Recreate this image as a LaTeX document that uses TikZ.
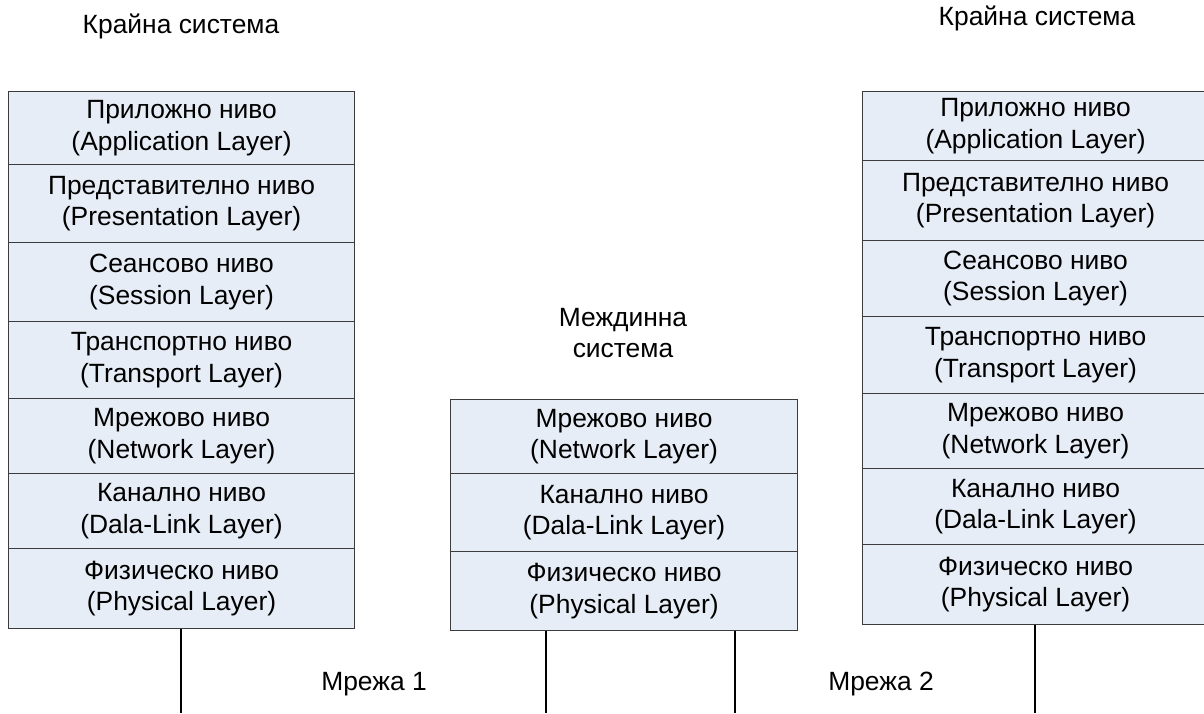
\documentclass[tikz,border=0pt]{standalone}
\usepackage{fontspec}
\setmainfont{Liberation Sans}
\definecolor{layerfill}{HTML}{E7EDF6}
\definecolor{layerline}{HTML}{3C3C3C}
\begin{document}
\begin{tikzpicture}[x=1pt,y=-1pt,
  txt/.style={font=\fontsize{26.4}{31.5}\selectfont, align=center, inner sep=0pt},
  layer/.style={txt, draw=layerline, line width=1.1pt, fill=layerfill,
    anchor=north west, minimum width=#1},
  wire/.style={draw=black, line width=2pt}]
\useasboundingbox (0,0) rectangle (1204,713);

% left end system
\node[txt] (tL) at (181,26) {Крайна система};
\node[layer=346, minimum height=73] (L1) at (8,91)  {Приложно ниво\\(Application Layer)};
\node[layer=346, minimum height=78] (L2) at (8,164) {Представително ниво\\(Presentation Layer)};
\node[layer=346, minimum height=79] (L3) at (8,242) {Сеансово ниво\\(Session Layer)};
\node[layer=346, minimum height=77] (L4) at (8,321) {Транспортно ниво\\(Transport Layer)};
\node[layer=346, minimum height=75] (L5) at (8,398) {Мрежово ниво\\(Network Layer)};
\node[layer=346, minimum height=75] (L6) at (8,473) {Канално ниво\\(Dala-Link Layer)};
\node[layer=346, minimum height=80] (L7) at (8,548) {Физическо ниво\\(Physical Layer)};

% intermediate system
\node[txt] (tM) at (623,333) {Междинна\\система};
\node[layer=347, minimum height=74] (M1) at (450,399) {Мрежово ниво\\(Network Layer)};
\node[layer=347, minimum height=78] (M2) at (450,473) {Канално ниво\\(Dala-Link Layer)};
\node[layer=347, minimum height=79] (M3) at (450,551) {Физическо ниво\\(Physical Layer)};

% right end system
\node[txt] (tR) at (1037,18) {Крайна система};
\node[layer=346, minimum height=69] (R1) at (862,91)  {Приложно ниво\\(Application Layer)};
\node[layer=346, minimum height=80] (R2) at (862,160) {Представително ниво\\(Presentation Layer)};
\node[layer=346, minimum height=76] (R3) at (862,240) {Сеансово ниво\\(Session Layer)};
\node[layer=346, minimum height=77] (R4) at (862,316) {Транспортно ниво\\(Transport Layer)};
\node[layer=346, minimum height=75] (R5) at (862,393) {Мрежово ниво\\(Network Layer)};
\node[layer=346, minimum height=76] (R6) at (862,468) {Канално ниво\\(Dala-Link Layer)};
\node[layer=346, minimum height=80] (R7) at (862,544) {Физическо ниво\\(Physical Layer)};

% network labels
\node[txt] (n1) at (374,684) {Мрежа 1};
\node[txt] (n2) at (881,684) {Мрежа 2};

% links down to the networks
\coordinate (eL)  at (181,713);
\coordinate (eM1) at (546,713);
\coordinate (eM2) at (735,713);
\coordinate (eR)  at (1035,713);
\draw[wire] (L7.south -| eL) -- (eL);
\draw[wire] (M3.south -| eM1) -- (eM1);
\draw[wire] (M3.south -| eM2) -- (eM2);
\draw[wire] (R7.south -| eR) -- (eR);
\end{tikzpicture}
\end{document}
